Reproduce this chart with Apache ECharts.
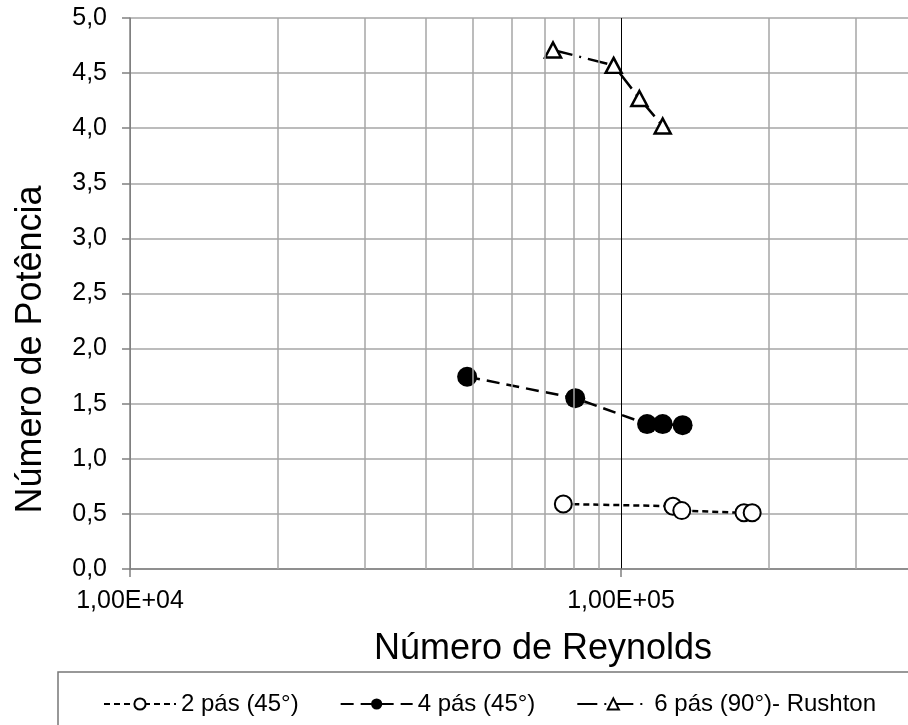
<!DOCTYPE html>
<html>
<head>
<meta charset="utf-8">
<script src="https://cdn.jsdelivr.net/npm/echarts@6/dist/echarts.min.js"></script>
<style>
  html, body { margin: 0; padding: 0; background: #fff; }
  #chart { width: 908px; height: 725px; }
</style>
</head>
<body>
<div id="chart"></div>
<script>
// dados
var seriesNames = ['2 pás (45°)', '4 pás (45°)', '6 pás (90°)- Rushton'];
var re2 = [76300, 127600, 133000, 178000, 185000];
var np2 = [0.59, 0.57, 0.53, 0.51, 0.51];
var re4 = [48600, 80700, 113000, 121600, 133500];
var np4 = [1.745, 1.55, 1.315, 1.315, 1.305];
var re6 = [72700, 96600, 109000, 121600];
var np6 = [4.71, 4.57, 4.27, 4.02];
// linhas de grade secundárias do eixo log
var minorGrid = [20000, 30000, 40000, 50000, 60000, 70000, 80000, 90000,
  200000, 300000, 400000, 500000, 600000, 700000, 800000, 900000];

var font = 'Liberation Sans, Arial, sans-serif';

function pairs(xs, ys) {
  return xs.map(function (x, i) { return [x, ys[i]]; });
}

var chart = echarts.init(document.getElementById('chart'));

chart.setOption({
  animation: false,
  textStyle: { fontFamily: font },
  grid: {
    left: 130,
    top: 18,
    bottom: 156,
    right: -204,
    containLabel: false,
    outerBoundsMode: 'none'
  },
  legend: {
    data: seriesNames,
    left: 98,
    top: 687,
    itemWidth: 72,
    itemHeight: 14,
    itemGap: 41,
    textStyle: { fontSize: 24, color: '#000', fontFamily: font }
  },
  graphic: [{
    type: 'rect',
    shape: { x: 58, y: 672, width: 900, height: 100 },
    style: { fill: 'none', stroke: '#777', lineWidth: 1.5 },
    silent: true
  }],
  xAxis: {
    type: 'log',
    logBase: 10,
    min: 10000,
    max: 1000000,
    name: 'Número de Reynolds',
    nameLocation: 'middle',
    nameGap: 62,
    nameTextStyle: { fontSize: 36, color: '#000', fontFamily: font, padding: [0, 156, 0, 0] },
    axisLine: { lineStyle: { color: '#808080', width: 1.5 } },
    axisTick: { show: true, length: 8, lineStyle: { color: '#808080', width: 1.5 } },
    axisLabel: {
      fontSize: 25,
      color: '#000',
      margin: 20,
      formatter: function (v) {
        return v.toExponential(2).replace('.', ',').replace('e+', 'E+0');
      }
    },
    splitLine: { show: true, lineStyle: { color: ['#808080', '#000', '#000'], width: 1 } }
  },
  yAxis: {
    type: 'value',
    min: 0,
    max: 5,
    interval: 0.5,
    name: 'Número de Potência',
    nameLocation: 'middle',
    nameGap: 81,
    nameTextStyle: { fontSize: 36, color: '#000', fontFamily: font, padding: [0, 112, 0, 0] },
    axisLine: { show: true, lineStyle: { color: '#808080', width: 1.5 } },
    axisTick: { show: true, length: 8, lineStyle: { color: '#808080', width: 1.5 } },
    axisLabel: {
      fontSize: 25,
      color: '#000',
      margin: 23,
      formatter: function (v) { return v.toFixed(1).replace('.', ','); }
    },
    splitLine: { show: true, lineStyle: { color: '#a6a6a6', width: 1.5 } }
  },
  series: [
    {
      name: 'grade',
      type: 'line',
      data: [],
      z: 1,
      silent: true,
      markLine: {
        silent: true,
        symbol: 'none',
        label: { show: false },
        lineStyle: { color: '#a6a6a6', width: 1.5, type: 'solid' },
        data: minorGrid.map(function (v) { return { xAxis: v }; })
      }
    },
    {
      name: seriesNames[0],
      type: 'line',
      data: pairs(re2, np2),
      symbol: 'circle',
      symbolSize: 17,
      lineStyle: { color: '#000', width: 2.5, type: [6, 4] },
      itemStyle: { color: '#fff', borderColor: '#000', borderWidth: 2 }
    },
    {
      name: seriesNames[1],
      type: 'line',
      data: pairs(re4, np4),
      symbol: 'circle',
      symbolSize: 20,
      lineStyle: { color: '#000', width: 2.5, type: [13, 7] },
      itemStyle: { color: '#000', borderColor: '#000', borderWidth: 0 }
    },
    {
      name: seriesNames[2],
      type: 'line',
      data: pairs(re6, np6),
      symbol: 'triangle',
      symbolSize: [16, 15],
      lineStyle: { color: '#000', width: 2.5, type: [20, 7, 2, 7] },
      itemStyle: { color: '#fff', borderColor: '#000', borderWidth: 2.5 }
    }
  ]
});
</script>
</body>
</html>
